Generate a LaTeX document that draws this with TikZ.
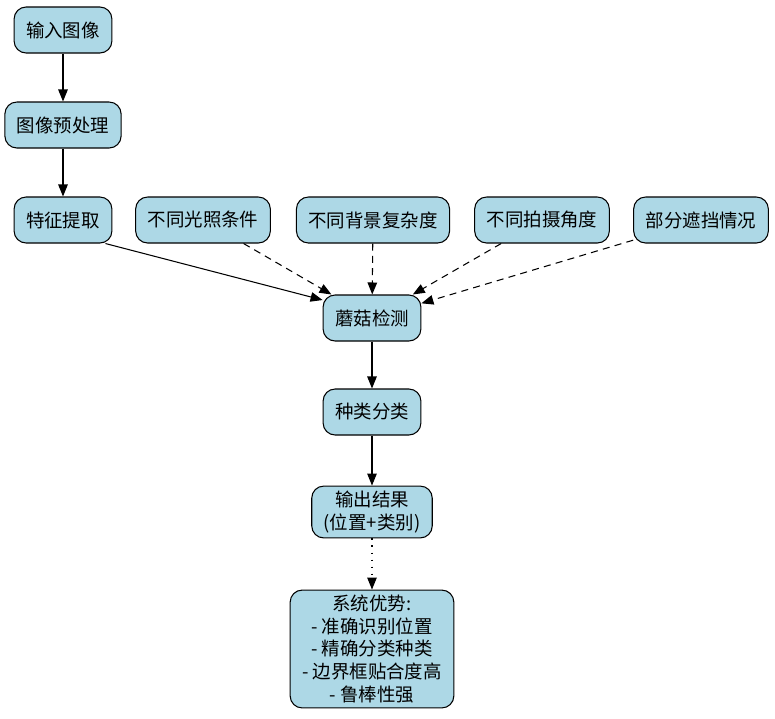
\documentclass[tikz,border=0pt]{standalone}
\usepackage{fontspec}
\setmainfont{Noto Sans CJK SC}
\usetikzlibrary{arrows.meta,calc}
\definecolor{BoxClr}{rgb}{0.678,0.847,0.902}

\begin{document}
\begin{tikzpicture}[x=0.02cm,y=-0.02cm,
  font=\fontsize{10.5pt}{12.9pt}\selectfont,
  box/.style={draw=black,fill=BoxClr,line width=0.6pt,rounded corners=0.24cm,
    inner xsep=0.24cm,inner ysep=0.1cm,minimum height=0.92cm,align=center},
  flow/.style={-{Triangle[length=0.24cm,width=0.19cm]},line width=0.6pt},
  cond/.style={flow,dash pattern=on 4pt off 3pt},
  last/.style={flow,dash pattern=on 0.8pt off 3.2pt}]
\useasboundingbox (0,0) rectangle (775,718);

\node[box] (input)  at (63,30)   {输入图像};
\node[box] (prep)   at (63,125)  {图像预处理};
\node[box] (feat)   at (63,220)  {特征提取};
\node[box] (light)  at (203,220) {不同光照条件};
\node[box] (bg)     at (373,220) {不同背景复杂度};
\node[box] (view)   at (542,220) {不同拍摄角度};
\node[box] (occl)   at (701,220) {部分遮挡情况};
\node[box] (detect) at (372,318) {蘑菇检测};
\node[box] (class)  at (372,412) {种类分类};
\node[box] (result) at (372,512) {输出结果\\(位置+类别)};
\node[box] (merit)  at (372,649) {系统优势:\\- 准确识别位置\\- 精确分类种类\\- 边界框贴合度高\\- 鲁棒性强};

\draw[flow] (input) -- (prep);
\draw[flow] (prep) -- (feat);
\draw[flow] (feat.-29) -- (detect.160);
\draw[cond] (light) -- (detect);
\draw[cond] (bg) -- (detect);
\draw[cond] (view) -- (detect);
\draw[cond] (occl) -- (detect);
\draw[flow] (detect) -- (class);
\draw[flow] (class) -- (result);
\draw[last] (result) -- (merit);

\end{tikzpicture}
\end{document}
